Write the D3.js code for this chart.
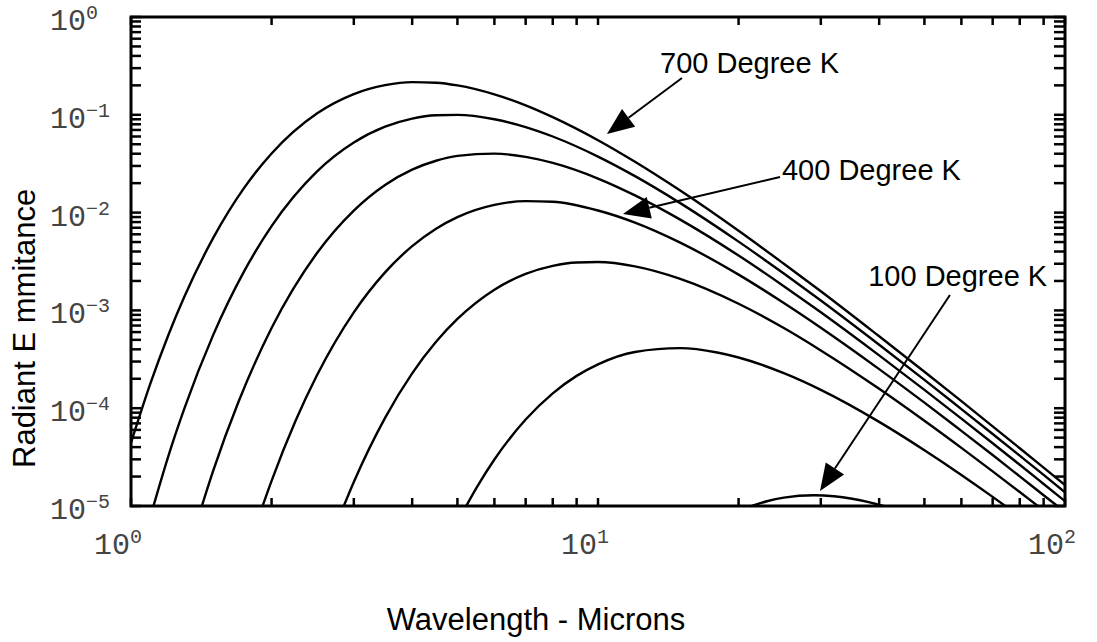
<!DOCTYPE html>
<html>
<head>
<meta charset="utf-8">
<script src="https://cdn.jsdelivr.net/npm/d3@7"></script>
<style>
  body { margin: 0; background: #fff; }
  svg { display: block; }
  .tick-lbl { font-family: 'Liberation Mono', 'DejaVu Sans Mono', monospace; fill: #444; }
  .title { font-family: 'Liberation Sans', Arial, sans-serif; font-size: 31px; fill: #000; }
  .note { font-family: 'Liberation Sans', Arial, sans-serif; font-size: 29px; fill: #000; }
</style>
</head>
<body>
<div id="chart"></div>
<script>
// wavelength (microns) and radiant emittance, one pair per curve
const lam700 = [1, 1.1, 1.2, 1.3, 1.5, 1.75, 2, 2.5, 3, 3.5, 4, 4.5, 5, 6, 7, 8, 10, 12, 15, 20, 25, 30, 40, 50, 60, 70, 80, 90, 100];
const em700 = [4.43e-5, 1.78e-4, 5.48e-4, 1.37e-3, 5.51e-3, 1.81e-2, 4.02e-2, 0.103, 0.163, 0.201, 0.216, 0.213, 0.200, 0.162, 0.125, 0.0947, 0.0550, 0.0331, 0.0168, 0.00652, 0.00300, 0.00157, 5.44e-4, 2.36e-4, 1.18e-4, 6.52e-5, 3.90e-5, 2.47e-5, 1.64e-5];

const lam600 = [1.117, 1.2, 1.3, 1.5, 1.75, 2, 2.5, 3, 3.5, 4, 4.5, 5, 6, 7, 8, 10, 12, 15, 20, 25, 30, 40, 50, 60, 70, 80, 90, 100];
const em600 = [1e-5, 3.15e-5, 9.83e-5, 5.62e-4, 2.55e-3, 7.26e-3, 0.0262, 0.0520, 0.0755, 0.0913, 0.0988, 0.0998, 0.0901, 0.0749, 0.0600, 0.0374, 0.0236, 0.0125, 0.00505, 0.00238, 0.00126, 4.45e-4, 1.95e-4, 9.79e-5, 5.45e-5, 3.27e-5, 2.08e-5, 1.38e-5];

const lam500 = [1.418, 1.5, 1.7, 2, 2.5, 3, 3.5, 4, 4.5, 5, 6, 7, 8, 10, 12, 15, 20, 25, 30, 40, 50, 60, 70, 80, 90, 100];
const em500 = [1e-5, 2.30e-5, 1.17e-4, 6.60e-4, 3.84e-3, 0.0105, 0.0192, 0.0275, 0.0339, 0.0380, 0.0401, 0.0371, 0.0322, 0.0223, 0.0150, 0.00848, 0.00364, 0.00177, 9.57e-4, 3.47e-4, 1.54e-4, 7.82e-5, 4.38e-5, 2.64e-5, 1.68e-5, 1.12e-5];

const lam400 = [1.913, 2, 2.25, 2.5, 3, 3.5, 4, 4.5, 5, 6, 7, 8, 10, 12, 15, 20, 25, 30, 40, 50, 60, 70, 80, 90, 96.3];
const em400 = [1e-5, 1.81e-5, 7.40e-5, 2.16e-4, 9.56e-4, 2.45e-3, 4.54e-3, 6.85e-3, 9.00e-3, 0.0120, 0.0131, 0.0129, 0.0105, 0.00790, 0.00493, 0.00232, 1.19e-3, 6.65e-4, 2.51e-4, 1.14e-4, 5.86e-5, 3.32e-5, 2.01e-5, 1.29e-5, 1e-5];

const lam300 = [2.855, 3, 3.5, 4, 4.5, 5, 6, 7, 8, 9, 10, 12, 15, 20, 25, 30, 40, 50, 60, 70, 80, 87.5];
const em300 = [1e-5, 1.76e-5, 7.97e-5, 2.27e-4, 4.77e-4, 8.18e-4, 1.63e-3, 2.36e-3, 2.85e-3, 3.09e-3, 3.12e-3, 2.82e-3, 2.10e-3, 1.17e-3, 6.60e-4, 3.90e-4, 1.58e-4, 7.44e-5, 3.93e-5, 2.26e-5, 1.39e-5, 1e-5];

const lam200 = [5.221, 5.5, 6, 7, 8, 9, 10, 12, 15, 18, 20, 25, 30, 40, 50, 60, 70, 74.5];
const em200 = [1e-5, 1.55e-5, 2.99e-5, 7.66e-5, 1.42e-4, 2.14e-4, 2.81e-4, 3.76e-4, 4.11e-4, 3.71e-4, 3.30e-4, 2.28e-4, 1.54e-4, 7.25e-5, 3.72e-5, 2.08e-5, 1.24e-5, 1e-5];

const lam100 = [21.35, 23, 25, 29, 32, 35, 38, 40.9];
const em100 = [1e-5, 1.118e-5, 1.217e-5, 1.287e-5, 1.257e-5, 1.187e-5, 1.096e-5, 1e-5];

const xExponents = [0, 1, 2];
const yExponents = [0, -1, -2, -3, -4, -5];

// callouts: text anchor, arrow tail and arrow tip, in data units
const noteText = ['700 Degree K', '400 Degree K', '100 Degree K'];
const noteAt = [[13.58, 0.2676], [24.77, 0.02154], [37.9, 1.78e-3]];
const arrowFrom = [[15.13, 0.2378], [24.53, 0.02312], [56.7, 1.437e-3]];
const arrowTo = [[10.45, 0.0637], [11.31, 0.00968], [29.88, 1.423e-5]];

const W = 1097, H = 642;
const MARGIN = {left: 131, right: 32, top: 17, bottom: 136};

const series = [
  [lam700, em700], [lam600, em600], [lam500, em500], [lam400, em400],
  [lam300, em300], [lam200, em200], [lam100, em100]
].map(([l, e]) => l.map((v, i) => [v, e[i]]));

const x = d3.scaleLog().domain([1, 100]).range([MARGIN.left, W - MARGIN.right]);
const y = d3.scaleLog().domain([1e-5, 1]).range([H - MARGIN.bottom, MARGIN.top]);

const [xLo, xHi] = x.range();
const [yLo, yHi] = y.range();

const svg = d3.select('#chart').append('svg')
  .attr('width', W)
  .attr('height', H);

svg.append('defs').append('clipPath')
  .attr('id', 'clip')
  .append('rect')
    .attr('x', xLo)
    .attr('y', yHi)
    .attr('width', xHi - xLo)
    .attr('height', yLo - yHi);

// curves
svg.append('g')
  .attr('clip-path', 'url(#clip)')
  .selectAll('path')
  .data(series)
  .join('path')
    .attr('fill', 'none')
    .attr('stroke', '#000')
    .attr('stroke-width', 2.4)
    .attr('stroke-linejoin', 'round')
    .attr('d', d3.line()
      .x(d => x(d[0]))
      .y(d => y(d[1]))
      .curve(d3.curveMonotoneX));

// frame
svg.append('rect')
  .attr('x', xLo)
  .attr('y', yHi)
  .attr('width', xHi - xLo)
  .attr('height', yLo - yHi)
  .attr('fill', 'none')
  .attr('stroke', '#000')
  .attr('stroke-width', 3);

// minor + major ticks on all four sides, pointing inward
const xTickVals = x.ticks();
const yTickVals = y.ticks();

function drawTicks(cls, vals, pos) {
  svg.append('g')
    .attr('class', cls)
    .selectAll('line')
    .data(vals)
    .join('line')
      .attr('stroke', '#000')
      .attr('stroke-width', 2.5)
      .each(function(d) {
        const p = pos(d);
        d3.select(this)
          .attr('x1', p[0]).attr('y1', p[1])
          .attr('x2', p[2]).attr('y2', p[3]);
      });
}

drawTicks('tick-bottom', xTickVals, d => [x(d), yLo, x(d), yLo - 8]);
drawTicks('tick-top', xTickVals, d => [x(d), yHi, x(d), yHi + 8]);
drawTicks('tick-left', yTickVals, d => [xLo, y(d), xLo + 10, y(d)]);
drawTicks('tick-right', yTickVals, d => [xHi, y(d), xHi - 11, y(d)]);

// power-of-ten labels
function powLabel(sel, exp) {
  sel.append('tspan').attr('font-size', 30).text('10');
  sel.append('tspan')
    .attr('font-size', 20)
    .attr('dy', -11)
    .text(exp < 0 ? '\u2212' + (-exp) : String(exp));
}

svg.append('g')
  .selectAll('text')
  .data(xExponents)
  .join('text')
    .attr('class', 'tick-lbl')
    .attr('x', d => x(Math.pow(10, d)) - 37)
    .attr('y', yLo + 48)
    .each(function(d) { powLabel(d3.select(this), d); });

svg.append('g')
  .selectAll('text')
  .data(yExponents)
  .join('text')
    .attr('class', 'tick-lbl')
    .attr('x', 50)
    .attr('y', d => y(Math.pow(10, d)) + 13)
    .each(function(d) { powLabel(d3.select(this), d); });

// axis titles
svg.append('text')
  .attr('class', 'title')
  .attr('text-anchor', 'middle')
  .attr('x', 536)
  .attr('y', 630)
  .text('Wavelength - Microns');

svg.append('text')
  .attr('class', 'title')
  .attr('text-anchor', 'start')
  .attr('transform', 'translate(35,468) rotate(-90)')
  .text('Radiant E mmitance');

// callouts with filled arrow heads
const HEAD_LEN = 27, HEAD_HALF = 11;

noteText.forEach((t, i) => {
  const [ax, ay] = [x(arrowFrom[i][0]), y(arrowFrom[i][1])];
  const [tx, ty] = [x(arrowTo[i][0]), y(arrowTo[i][1])];
  const len = Math.hypot(tx - ax, ty - ay);
  const ux = (tx - ax) / len, uy = (ty - ay) / len;
  const bx = tx - ux * HEAD_LEN, by = ty - uy * HEAD_LEN;

  svg.append('line')
    .attr('x1', ax).attr('y1', ay)
    .attr('x2', bx).attr('y2', by)
    .attr('stroke', '#000')
    .attr('stroke-width', 2);

  svg.append('path')
    .attr('d', `M${tx},${ty}L${bx - uy * HEAD_HALF},${by + ux * HEAD_HALF}L${bx + uy * HEAD_HALF},${by - ux * HEAD_HALF}Z`)
    .attr('fill', '#000');

  svg.append('text')
    .attr('class', 'note')
    .attr('x', x(noteAt[i][0]))
    .attr('y', y(noteAt[i][1]))
    .text(t);
});
</script>
</body>
</html>
